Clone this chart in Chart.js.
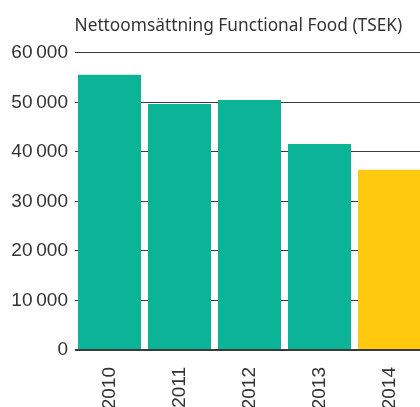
<!DOCTYPE html>
<html>
<head>
<meta charset="utf-8">
<script src="https://cdn.jsdelivr.net/npm/chart.js@4.4.1/dist/chart.umd.min.js"></script>
<style>
  html, body { margin: 0; padding: 0; background: #fff; overflow: hidden; }
  #wrap { width: 425px; height: 407px; }
</style>
</head>
<body>
<div id="wrap"><canvas id="myChart"></canvas></div>
<script>
"use strict";
// data
const years = ["2010", "2011", "2012", "2013", "2014"];
const sales = [55600, 49700, 50500, 41600, 36400];
const barColors = ["#0bb496", "#0bb496", "#0bb496", "#0bb496", "#fec90f"];
const yTicks = [0, 10000, 20000, 30000, 40000, 50000, 60000];
const titleText = "Nettoomsättning Functional Food (TSEK)";

// 60000 -> "60 000"
function fmt(v) {
    return String(v).replace(/\B(?=(\d{3})+(?!\d))/g, "\u2009");
}

// canvas is a bit wider than the window so the last bar runs off the right edge
const ctx = document.getElementById("myChart");
new Chart(ctx, {
    type: "bar",
    data: {
        labels: years,
        datasets: [{
            data: sales,
            backgroundColor: barColors,
            borderWidth: 0,
            categoryPercentage: 1,
            barPercentage: 0.9
        }]
    },
    options: {
        responsive: true,
        maintainAspectRatio: false,
        animation: false,
        layout: {
            padding: { left: 0, right: 0.5, top: 0, bottom: 0 }
        },
        scales: {
            x: {
                grid: { display: false, drawTicks: false },
                border: { display: false },
                ticks: {
                    color: "#333",
                    font: { family: "'Liberation Sans', Arial, sans-serif", size: 19 },
                    maxRotation: 90,
                    minRotation: 90,
                    padding: 17
                },
                afterFit: function(scale) {
                    scale.height = 57;
                    scale.paddingLeft = 0;
                    scale.paddingRight = 0;
                }
            },
            y: {
                min: 0,
                max: 60000,
                z: 1,
                afterBuildTicks: function(scale) {
                    scale.ticks = yTicks.map(v => ({ value: v }));
                },
                grid: {
                    drawTicks: false,
                    color: "#3a3a3a",
                    lineWidth: c => (c.tick && c.tick.value === 0 ? 2 : 1)
                },
                border: { display: false },
                ticks: {
                    color: "#333",
                    font: { family: "'Liberation Sans', Arial, sans-serif", size: 19 },
                    padding: 6.5,
                    callback: v => fmt(v)
                },
                afterFit: function(scale) { scale.width = 74.5; }
            }
        },
        plugins: {
            legend: { display: false },
            tooltip: { enabled: false },
            title: {
                display: true,
                text: titleText,
                align: "start",
                fullSize: false,
                color: "#333",
                font: { family: "'Noto Sans', sans-serif", size: 17.3, weight: "normal", lineHeight: 1.2 },
                padding: { top: 16, bottom: 16.2 }
            }
        }
    }
});
</script>
</body>
</html>
